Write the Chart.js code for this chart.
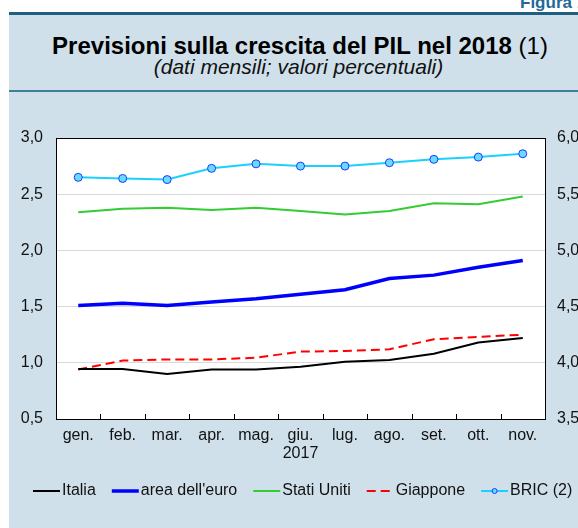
<!DOCTYPE html>
<html>
<head>
<meta charset="utf-8">
<script src="https://cdn.jsdelivr.net/npm/chart.js@4/dist/chart.umd.min.js"></script>
<style>
  html, body { margin: 0; padding: 0; background: #fff; }
  #page { position: relative; width: 578px; height: 528px; overflow: hidden; font-family: "Liberation Sans", Arial, sans-serif; }
  #panel { position: absolute; left: 9px; top: 13px; width: 569px; height: 515px; background: #cfe0ea; }
  #topline { position: absolute; left: 9px; top: 12px; width: 569px; height: 3px; background: #215f80; }
  #midline { position: absolute; left: 9px; top: 90px; width: 569px; height: 2px; background: #3f7f9c; }
  #figura { position: absolute; left: 520px; top: -7px; font-size: 17px; font-weight: bold; color: #1f6a9a; white-space: nowrap; }
  #title { position: absolute; left: 0; width: 600px; top: 32px; text-align: center; font-size: 24px; color: #000; white-space: nowrap; }
  #subtitle { position: absolute; left: 0; width: 597px; top: 55px; text-align: center; font-size: 21px; font-style: italic; color: #111; white-space: nowrap; }
  canvas { position: absolute; left: 0; top: 0; }
</style>
</head>
<body>
<div id="page">
  <div id="panel"></div>
  <div id="topline"></div>
  <div id="midline"></div>
  <div id="figura">Figura 1.</div>
  <div id="title"><b>Previsioni sulla crescita del PIL nel 2018</b> (1)</div>
  <div id="subtitle">(dati mensili; valori percentuali)</div>
  <canvas id="chart" width="578" height="528"></canvas>
</div>
<script>
const months = ["gen.", "feb.", "mar.", "apr.", "mag.", ["giu.", "2017"], "lug.", "ago.", "set.", "ott.", "nov."];

const italia   = [0.945, 0.945, 0.90, 0.94, 0.94, 0.965, 1.01, 1.025, 1.08, 1.18, 1.22];
const areaEuro = [1.51, 1.53, 1.51, 1.54, 1.57, 1.61, 1.65, 1.75, 1.78, 1.85, 1.91];
const usa      = [2.34, 2.37, 2.38, 2.36, 2.38, 2.35, 2.32, 2.35, 2.42, 2.41, 2.48];
const giappone = [0.94, 1.02, 1.03, 1.03, 1.045, 1.10, 1.105, 1.12, 1.21, 1.23, 1.25];
const bric     = [5.65, 5.64, 5.63, 5.73, 5.77, 5.75, 5.75, 5.78, 5.81, 5.83, 5.86];

const FONT = '"Liberation Sans", Arial, sans-serif';
const fmt = v => v.toFixed(1).replace(".", ",");

const plotFramePlugin = {
  id: "plotFrame",
  beforeDraw(c) {
    const { ctx, chartArea } = c;
    if (!chartArea) return;
    ctx.save();
    ctx.fillStyle = "#ffffff";
    ctx.fillRect(chartArea.left, chartArea.top, chartArea.width, chartArea.height);
    ctx.restore();
  },
  afterDraw(c) {
    const { ctx, chartArea, scales } = c;
    const { left, top, right, bottom } = chartArea;
    ctx.save();
    ctx.strokeStyle = "#000";
    ctx.lineWidth = 1;
    ctx.strokeRect(Math.round(left) + 0.5, Math.round(top) + 0.5, Math.round(right - left), Math.round(bottom - top));
    // inward ticks between months
    const x = scales.x;
    ctx.beginPath();
    for (let i = 0; i < months.length - 1; i++) {
      const px = Math.round((x.getPixelForValue(i) + x.getPixelForValue(i + 1)) / 2) + 0.5;
      ctx.moveTo(px, bottom);
      ctx.lineTo(px, bottom - 5);
    }
    ctx.stroke();
    ctx.restore();
  }
};

const legendRowPlugin = {
  id: "legendRow",
  afterDraw(c) {
    const ctx = c.ctx;
    let x = 33;
    const y = 491;
    ctx.save();
    ctx.font = "16px " + FONT;
    ctx.textBaseline = "middle";
    c.data.datasets.forEach(ds => {
      ctx.strokeStyle = ds.borderColor;
      ctx.lineWidth = ds.borderWidth;
      ctx.setLineDash(ds.borderDash || []);
      ctx.beginPath();
      ctx.moveTo(x, y);
      ctx.lineTo(x + 27, y);
      ctx.stroke();
      ctx.setLineDash([]);
      if (ds.pointRadius > 0) {
        ctx.beginPath();
        ctx.arc(x + 13.5, y, 2.5, 0, Math.PI * 2);
        ctx.fillStyle = ds.pointBackgroundColor;
        ctx.fill();
        ctx.strokeStyle = ds.pointBorderColor;
        ctx.lineWidth = 1;
        ctx.stroke();
      }
      x += 29;
      ctx.fillStyle = "#111";
      ctx.fillText(ds.label, x, y);
      x += ctx.measureText(ds.label).width + 16;
    });
    ctx.restore();
  }
};

new Chart(document.getElementById("chart"), {
  type: "line",
  data: {
    labels: months,
    datasets: [
      { label: "Italia", data: italia, yAxisID: "y", borderColor: "#000000", borderWidth: 2, pointRadius: 0 },
      { label: "area dell'euro", data: areaEuro, yAxisID: "y", borderColor: "#0000ff", borderWidth: 3.5, pointRadius: 0 },
      { label: "Stati Uniti", data: usa, yAxisID: "y", borderColor: "#33cc33", borderWidth: 2, pointRadius: 0 },
      { label: "Giappone", data: giappone, yAxisID: "y", borderColor: "#ff0000", borderWidth: 2, borderDash: [9, 5], pointRadius: 0 },
      { label: "BRIC (2)", data: bric, yAxisID: "y1", borderColor: "#1ad0ff", borderWidth: 2,
        pointRadius: 4, pointBackgroundColor: "#66dcff", pointBorderColor: "#2236ff", pointBorderWidth: 1 }
    ]
  },
  options: {
    responsive: false,
    animation: false,
    layout: { padding: { top: 138, left: 0, right: 0, bottom: 0 } },
    elements: { line: { tension: 0 } },
    plugins: { legend: { display: false }, tooltip: { enabled: false } },
    scales: {
      x: {
        offset: true,
        grid: { display: false, drawTicks: false },
        border: { display: false },
        ticks: { color: "#111", font: { family: FONT, size: 16, lineHeight: 1.15 }, padding: 7, autoSkip: false, maxRotation: 0 },
        afterFit(s) { s.height = 109; }
      },
      y: {
        position: "left",
        min: 0.5, max: 3.0,
        grid: { color: "#d9d9d9", lineWidth: 1, drawTicks: false },
        border: { display: false },
        ticks: { stepSize: 0.5, color: "#111", font: { family: FONT, size: 16 }, padding: 13, callback: v => fmt(v) },
        afterFit(s) { s.width = 56; }
      },
      y1: {
        position: "right",
        min: 3.5, max: 6.0,
        grid: { drawOnChartArea: false, drawTicks: false },
        border: { display: false },
        ticks: { stepSize: 0.5, color: "#111", font: { family: FONT, size: 16 }, padding: 12, callback: v => fmt(v) },
        afterFit(s) { s.width = 33; }
      }
    }
  },
  plugins: [plotFramePlugin, legendRowPlugin]
});
</script>
</body>
</html>
